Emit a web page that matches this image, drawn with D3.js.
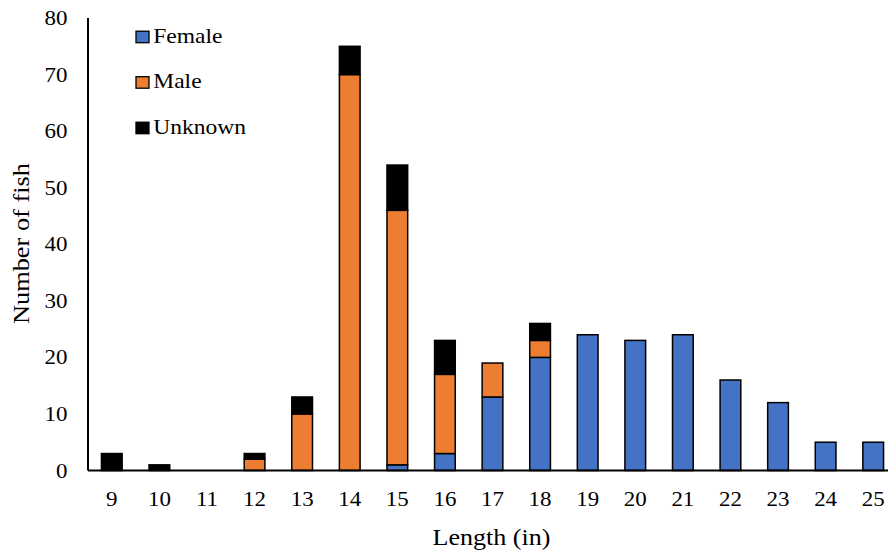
<!DOCTYPE html>
<html>
<head>
<meta charset="utf-8">
<script src="https://cdn.jsdelivr.net/npm/d3@7"></script>
<style>
  html, body { margin: 0; padding: 0; background: #fff; }
  svg { display: block; font-family: "Liberation Serif", "Times New Roman", serif; }
</style>
</head>
<body>
<svg id="chart" width="888" height="554"></svg>
<script>
// Fish length distribution by sex
const lengths = ["9","10","11","12","13","14","15","16","17","18","19","20","21","22","23","24","25"];
const female  = [0, 0, 0, 0, 0, 0, 1, 3, 13, 20, 24, 23, 24, 16, 12, 5, 5];
const male    = [0, 0, 0, 2, 10, 70, 45, 14, 6, 3, 0, 0, 0, 0, 0, 0, 0];
const unknown = [3, 1, 0, 1, 3, 5, 8, 6, 0, 3, 0, 0, 0, 0, 0, 0, 0];
const seriesNames = ["Female", "Male", "Unknown"];
const seriesColors = ["#4472C4", "#ED7D31", "#000000"];
const yTicks = [0, 10, 20, 30, 40, 50, 60, 70, 80];

const svg = d3.select("#chart");
const plotLeft = 88, plotTop = 18, plotBottom = 470.5, plotRight = 897;
const fontFamily = "Liberation Serif";
const tickStretch = 1.12;   // slightly wide lettering
const legendStretch = 1.12;

const rows = lengths.map((len, i) => ({ len, Female: female[i], Male: male[i], Unknown: unknown[i] }));
const stacked = d3.stack().keys(seriesNames)(rows);

const x = d3.scaleBand().domain(lengths).range([plotLeft, plotRight]).paddingInner(0.565).paddingOuter(0.2825);
const y = d3.scaleLinear().domain([0, 80]).range([plotBottom, plotTop]);
const color = d3.scaleOrdinal().domain(seriesNames).range(seriesColors);

// Stacked bars
svg.append("g").selectAll("g")
  .data(stacked)
  .join("g")
  .attr("fill", d => color(d.key))
  .selectAll("rect")
  .data(d => d.filter(p => p[1] - p[0] > 0))
  .join("rect")
  .attr("x", d => x(d.data.len))
  .attr("width", x.bandwidth())
  .attr("y", d => y(d[1]))
  .attr("height", d => y(d[0]) - y(d[1]))
  .attr("stroke", "#000")
  .attr("stroke-width", 1.5);

// Y axis
const yAxis = svg.append("g")
  .attr("transform", `translate(${plotLeft},0)`)
  .call(d3.axisLeft(y).tickValues(yTicks).tickSize(0).tickPadding(20.5));
yAxis.select(".domain").attr("stroke", "#000").attr("stroke-width", 2).attr("d", `M0,${plotTop}V${plotBottom}`);
yAxis.selectAll("text")
  .attr("font-size", 20.5).attr("font-family", fontFamily).attr("fill", "#000")
  .attr("x", -20.5 / tickStretch)
  .attr("transform", `scale(${tickStretch},1)`);

// X axis
const xAxis = svg.append("g")
  .attr("transform", `translate(0,${plotBottom})`)
  .call(d3.axisBottom(x).tickSize(0).tickPadding(21.4));
xAxis.select(".domain").attr("stroke", "#000").attr("stroke-width", 2).attr("d", `M${plotLeft},0H${plotRight}`);
xAxis.selectAll("text")
  .attr("font-size", 20.5).attr("font-family", fontFamily).attr("fill", "#000")
  .attr("transform", `scale(${tickStretch},1)`);

// Axis titles
svg.append("text")
  .attr("x", 491.5).attr("y", 545)
  .attr("text-anchor", "middle")
  .attr("font-size", 22.5)
  .attr("textLength", 118)
  .attr("lengthAdjust", "spacingAndGlyphs")
  .text("Length (in)");

svg.append("text")
  .attr("transform", "translate(28.5,243.5) rotate(-90)")
  .attr("text-anchor", "middle")
  .attr("font-size", 22.5)
  .attr("textLength", 161)
  .attr("lengthAdjust", "spacingAndGlyphs")
  .text("Number of fish");

// Legend
const legend = svg.append("g").selectAll("g")
  .data(seriesNames)
  .join("g")
  .attr("transform", (d, i) => `translate(136,${42.7 + i * 45.5})`);
legend.append("rect")
  .attr("y", -11.5)
  .attr("width", 13).attr("height", 11.5)
  .attr("fill", d => color(d))
  .attr("stroke", "#000").attr("stroke-width", 1.3);
legend.append("text")
  .attr("x", 17.3 / legendStretch).attr("y", 0)
  .attr("font-size", 21)
  .attr("transform", `scale(${legendStretch},1)`)
  .text(d => d);
</script>
</body>
</html>
